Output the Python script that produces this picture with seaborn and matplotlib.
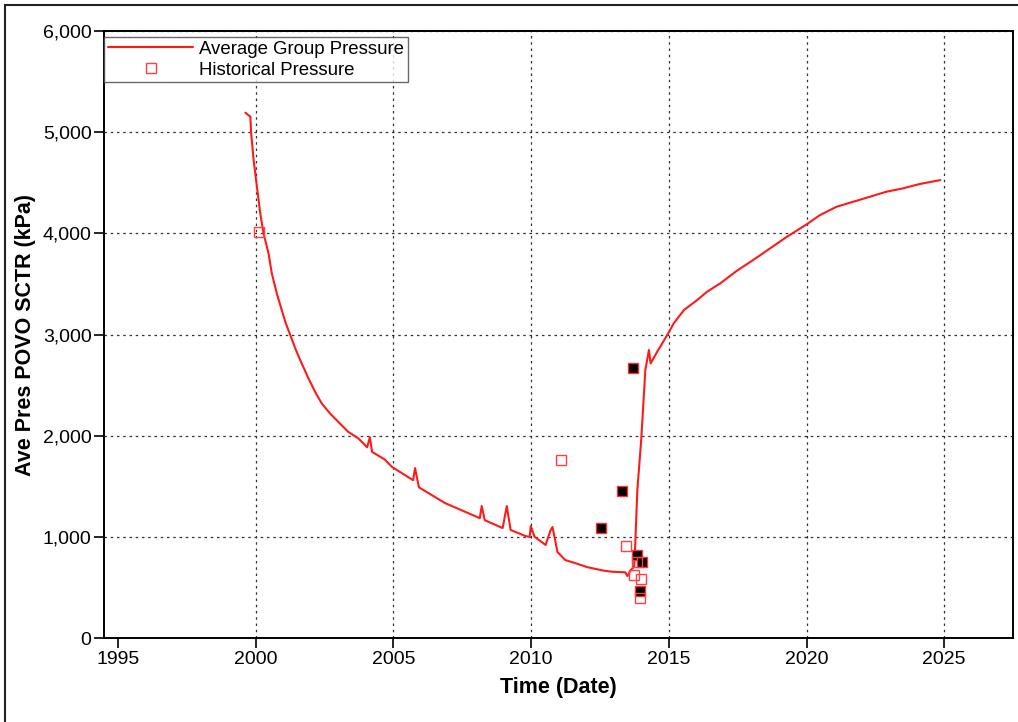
import matplotlib
matplotlib.use("Agg")
import matplotlib.pyplot as plt
from matplotlib.patches import Rectangle
from matplotlib.ticker import FuncFormatter
import pandas as pd
import seaborn as sns

# simulated average group pressure (year, kPa)
sim_year = [1999.63, 1999.81, 1999.84, 1999.93, 2000.05, 2000.17, 2000.29, 2000.47,
            2000.59, 2000.77, 2000.95, 2001.10, 2001.26, 2001.44, 2001.62, 2001.92,
            2002.16, 2002.40, 2002.70, 2003.00, 2003.36, 2003.73, 2004.05, 2004.15,
            2004.23, 2004.69, 2004.96, 2005.72, 2005.79, 2005.93, 2006.87, 2008.14,
            2008.21, 2008.32, 2008.97, 2009.12, 2009.26, 2009.80, 2009.95, 2009.99,
            2010.13, 2010.53, 2010.70, 2010.78, 2010.96, 2011.25, 2011.61, 2012.05,
            2012.66, 2012.95, 2013.42, 2013.50, 2013.62, 2013.74, 2013.77, 2013.86,
            2014.00, 2014.15, 2014.28, 2014.34, 2014.58, 2014.98, 2015.18, 2015.55,
            2016.03, 2016.39, 2016.87, 2017.47, 2018.08, 2018.68, 2019.28, 2019.97,
            2020.49, 2021.09, 2021.70, 2022.30, 2022.90, 2023.50, 2024.11, 2024.86]
sim_pres = [5193, 5153, 4990, 4725, 4460, 4200, 4000, 3803,
            3605, 3407, 3242, 3110, 2995, 2864, 2748, 2567,
            2435, 2320, 2221, 2138, 2039, 1974, 1885, 1985,
            1840, 1765, 1690, 1560, 1680, 1490, 1335, 1185,
            1305, 1165, 1087, 1305, 1068, 1008, 1000, 1107,
            1000, 920, 1060, 1097, 850, 770, 740, 700,
            665, 655, 650, 612, 672, 705, 837, 1465,
            1960, 2650, 2847, 2715, 2830, 3012, 3111, 3242,
            3341, 3423, 3506, 3630, 3740, 3852, 3965, 4083,
            4181, 4263, 4313, 4362, 4412, 4445, 4488, 4527]

# historical measurements (open squares)
hist_year = [2000.11, 2011.07, 2013.46, 2013.86, 2013.75, 2013.98, 2013.95]
hist_pres = [4010, 1760, 912, 750, 623, 580, 395]

# historical measurements (filled squares)
fill_year = [2012.54, 2013.29, 2013.71, 2013.86, 2014.04, 2013.96]
fill_pres = [1090, 1456, 2672, 820, 748, 468]

sim = pd.DataFrame({"year": sim_year, "pres": sim_pres})
hist = pd.DataFrame({"year": hist_year, "pres": hist_pres})
filled = pd.DataFrame({"year": fill_year, "pres": fill_pres})

sns.set_style("white")
plt.rcParams["font.family"] = ["Liberation Sans", "DejaVu Sans"]
plt.rcParams["text.color"] = "black"
plt.rcParams["axes.labelcolor"] = "black"
plt.rcParams["xtick.color"] = "black"
plt.rcParams["ytick.color"] = "black"

fig = plt.figure(figsize=(10.18, 7.22), dpi=100)
ax = fig.add_axes([0.1022, 0.1163, 0.893, 0.8407])

sns.lineplot(data=sim, x="year", y="pres", ax=ax, color="#ff1a1a", lw=1.5,
             sort=False, estimator=None, label="Average Group Pressure")
ax.plot(filled["year"], filled["pres"], ls="none", marker="s", ms=7.5,
        mfc="black", mec="#ff3030", mew=1.0, zorder=4)
ax.plot(hist["year"], hist["pres"], ls="none", marker="s", ms=7,
        mfc="none", mec="#ff4040", mew=1.0, zorder=5, label="Historical Pressure")

ax.set_xlim(1994.5, 2027.5)
ax.set_ylim(0, 6000)
ax.set_xticks(range(1995, 2030, 5))
ax.set_yticks(range(0, 7000, 1000))
ax.yaxis.set_major_formatter(FuncFormatter(lambda v, p: f"{int(v):,}"))
ax.tick_params(axis="both", direction="out", length=7, width=1.2, pad=2,
               labelsize=14, colors="black", bottom=True, left=True)

ax.grid(True, color="#333333", linestyle=(0, (2, 3)), linewidth=0.9)
ax.xaxis.get_gridlines()[0].set_visible(False)

for s in ax.spines.values():
    s.set_color("black")
    s.set_linewidth(1.4)

ax.set_xlabel("Time (Date)", fontsize=15.5, fontweight="bold", labelpad=7)
ax.set_ylabel("Ave Pres POVO SCTR (kPa)", fontsize=15.5, fontweight="bold", labelpad=5)

leg = ax.legend(loc="upper left", bbox_to_anchor=(0.0, 0.99), fontsize=13.4,
                frameon=True, fancybox=False, edgecolor="#444444",
                handlelength=4.6, borderaxespad=0, borderpad=0.2,
                labelspacing=0.2, handletextpad=0.3)
leg.get_frame().set_linewidth(1.0)
for t in leg.get_texts():
    t.set_color("black")

fig.add_artist(Rectangle((5 / 1018, -0.1), 1.2, 1.1 - 5 / 722,
                         transform=fig.transFigure, fill=False,
                         edgecolor="#222222", lw=1.5))

fig.savefig("out.png", dpi=100)
